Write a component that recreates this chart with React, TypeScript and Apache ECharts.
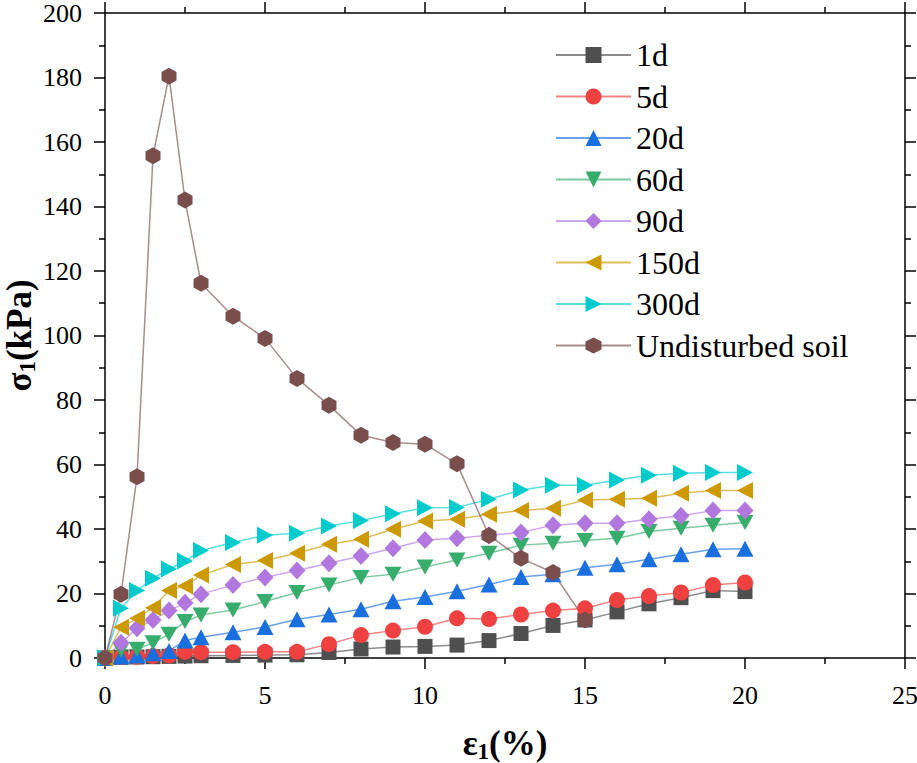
import { useEffect, useRef } from 'react';
import * as echarts from 'echarts';

// strain (%) at which the remoulded samples were read
const strainAged = [0, 0.5, 1, 1.5, 2, 2.5, 3, 4, 5, 6, 7, 8, 9, 10, 11, 12, 13, 14, 15, 16, 17, 18, 19, 20];
const strainSoil = [0, 0.5, 1, 1.5, 2, 2.5, 3, 4, 5, 6, 7, 8, 9, 10, 11, 12, 13, 14, 15];

const d1 = [0, 0.2, 0.3, 0.4, 0.5, 0.6, 0.7, 0.8, 0.9, 1.0, 1.7, 2.8, 3.4, 3.6, 4.0, 5.4, 7.6, 10.1, 11.8, 14.3, 16.8, 18.7, 20.9, 20.6];
const d5 = [0, 0.3, 0.4, 0.6, 0.8, 1.9, 1.8, 1.8, 1.9, 1.9, 4.3, 7.1, 8.5, 9.7, 12.3, 12.1, 13.5, 14.7, 15.4, 18.0, 19.2, 20.3, 22.6, 23.4];
const d20 = [0, 0.5, 0.8, 1.5, 2.2, 5.4, 6.4, 8.0, 9.6, 12.0, 13.5, 15.1, 17.6, 18.9, 20.7, 22.8, 25.1, 26.0, 28.0, 29.1, 30.6, 32.2, 33.7, 33.9];
const d60 = [0, 2.5, 2.7, 4.7, 7.4, 11.3, 13.3, 14.9, 17.5, 20.3, 22.6, 25.0, 26.0, 28.2, 30.4, 32.5, 35.0, 35.6, 36.4, 37.1, 39.2, 40.2, 41.2, 42.0];
const d90 = [0, 4.7, 9.2, 11.8, 14.7, 17.1, 19.8, 22.6, 25.0, 27.1, 29.4, 31.6, 34.0, 36.6, 37.1, 38.1, 38.9, 41.2, 41.8, 41.8, 43.0, 44.1, 45.7, 45.7];
const d150 = [0, 9.5, 12.3, 15.6, 20.9, 22.3, 25.7, 29.0, 30.2, 32.5, 35.3, 36.8, 39.9, 42.5, 43.0, 44.6, 45.7, 46.4, 49.0, 49.2, 49.5, 51.1, 51.9, 51.9];
const d300 = [0, 15.4, 20.9, 24.7, 27.6, 30.1, 33.3, 35.8, 38.1, 38.7, 40.9, 42.6, 44.7, 46.6, 46.7, 49.2, 52.1, 53.6, 53.6, 55.2, 56.7, 57.3, 57.5, 57.5];
const soil = [0, 19.8, 56.2, 155.7, 180.4, 142, 116.2, 106, 99.1, 86.7, 78.4, 69.1, 66.8, 66.3, 60.2, 38.0, 30.9, 26.5, 11.8];

const serif = "'Liberation Serif', 'Times New Roman', serif";

const hexagon = 'path://M0,-10L8.66,-5L8.66,5L0,10L-8.66,5L-8.66,-5Z';
const triDown = 'path://M0,0L10,0L5,9Z';
const triLeft = 'path://M0,5L9,0L9,10Z';
const triRight = 'path://M0,0L9,5L0,10Z';

const mk = (
  name: string,
  xs: number[],
  ys: number[],
  color: string,
  symbol: string,
  size: number | number[],
) => ({
  name,
  type: 'line' as const,
  data: xs.map((x, i) => [x, ys[i]]),
  symbol,
  symbolSize: size,
  showSymbol: true,
  itemStyle: { color },
  lineStyle: { color, width: 1.5, opacity: 0.65 },
  emphasis: { disabled: true },
});

const axisLine = { show: true, onZero: false, lineStyle: { color: '#000', width: 1.5 } };
const tick = { show: true, length: 11, lineStyle: { color: '#000', width: 1.5 } };
const minor = { show: true, splitNumber: 2, length: 6, lineStyle: { color: '#000', width: 1.5 } };

export default function App() {
  const ref = useRef<HTMLDivElement>(null);

  useEffect(() => {
    if (!ref.current) return;
    const chart = echarts.init(ref.current, undefined, { renderer: 'svg' });

    const xBase = {
      type: 'value' as const,
      min: 0,
      max: 25,
      interval: 5,
      axisLine,
      axisTick: tick,
      minorTick: minor,
      splitLine: { show: false },
    };
    const yBase = {
      type: 'value' as const,
      min: 0,
      max: 200,
      interval: 20,
      axisLine,
      axisTick: tick,
      minorTick: minor,
      splitLine: { show: false },
    };
    // bold name with a lowered "1" subscript
    const nameStyle = {
      fontFamily: serif,
      fontWeight: 'bold' as const,
      fontSize: 35,
      color: '#000',
      rich: {
        b: { fontFamily: serif, fontWeight: 'bold' as const, fontSize: 35, color: '#000' },
        s: { fontFamily: serif, fontWeight: 'bold' as const, fontSize: 23, color: '#000', padding: [16, 0, 0, 0] },
      },
    };
    const labelStyle = { fontFamily: serif, fontSize: 26, color: '#000' };

    chart.setOption({
      animation: false,
      backgroundColor: '#fff',
      grid: { left: 105, right: 12, top: 13, bottom: 105, containLabel: false, outerBoundsMode: 'none' },
      legend: {
        orient: 'vertical',
        left: 550,
        top: 34,
        itemWidth: 75,
        itemHeight: 20,
        itemGap: 9.5,
        textStyle: { fontFamily: serif, fontSize: 32, color: '#000', lineHeight: 31, padding: [0, 0, 0, 0] },
      },
      xAxis: [
        {
          ...xBase,
          position: 'bottom',
          name: '{b|ε}{s|1}{b|(%)}',
          nameLocation: 'middle',
          nameGap: 66,
          nameMoveOverlap: false,
          nameTextStyle: nameStyle,
          axisLabel: { ...labelStyle, margin: 24 },
        },
        { ...xBase, position: 'top', axisLabel: { show: false } },
      ],
      yAxis: [
        {
          ...yBase,
          position: 'left',
          name: '{b|σ}{s|1}{b|(kPa)}',
          nameLocation: 'middle',
          nameGap: 66,
          nameMoveOverlap: false,
          nameTextStyle: nameStyle,
          axisLabel: { ...labelStyle, margin: 23 },
        },
        { ...yBase, position: 'right', axisLabel: { show: false } },
      ],
      series: [
        mk('1d', strainAged, d1, '#4f4f4f', 'rect', 15),
        mk('5d', strainAged, d5, '#f04141', 'circle', 16),
        mk('20d', strainAged, d20, '#1a6fdf', 'triangle', [17, 16]),
        mk('60d', strainAged, d60, '#37ad6b', triDown, [17, 15]),
        mk('90d', strainAged, d90, '#b177de', 'diamond', [17, 18]),
        mk('150d', strainAged, d150, '#cc9900', triLeft, [16, 17]),
        mk('300d', strainAged, d300, '#00cbcc', triRight, [16, 17]),
        mk('Undisturbed soil', strainSoil, soil, '#7b4e4e', hexagon, [15, 17]),
      ],
    });

    return () => chart.dispose();
  }, []);

  return (
    <div
      ref={ref}
      style={{ position: 'absolute', left: 0, top: 0, width: 917, height: 763, background: '#fff' }}
    />
  );
}
